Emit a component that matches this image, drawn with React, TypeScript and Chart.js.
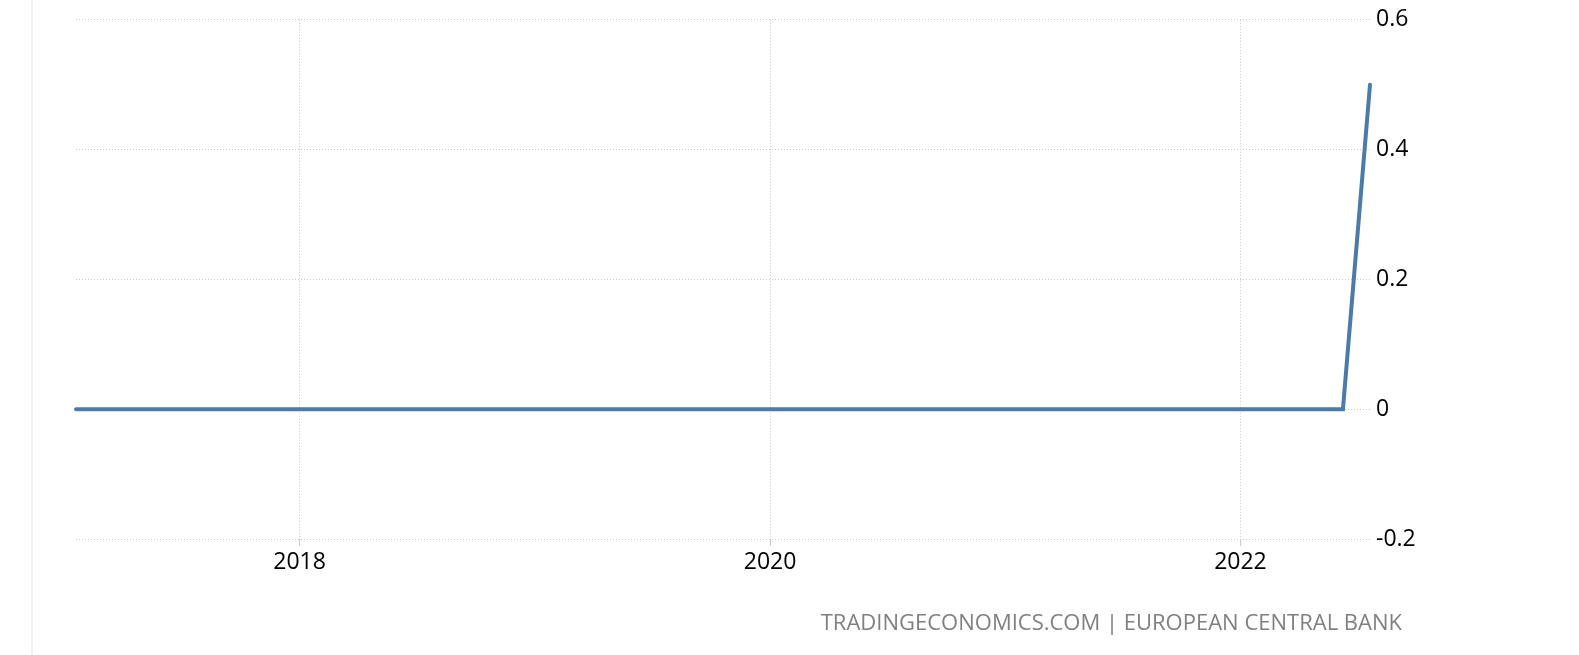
import { useEffect, useRef } from "react"
import { Chart, registerables } from "chart.js"

Chart.register(...registerables)

// ECB policy meeting dates and the rate (percent) set at each
const meetingDates = [
  "2017-01-19", "2017-03-09", "2017-04-27", "2017-06-08", "2017-07-20", "2017-09-07", "2017-10-26", "2017-12-14",
  "2018-01-25", "2018-03-08", "2018-04-26", "2018-06-14", "2018-07-26", "2018-09-13", "2018-10-25", "2018-12-13",
  "2019-01-24", "2019-03-07", "2019-04-10", "2019-06-06", "2019-07-25", "2019-09-12", "2019-10-24", "2019-12-12",
  "2020-01-23", "2020-03-12", "2020-04-30", "2020-06-04", "2020-07-16", "2020-09-10", "2020-10-29", "2020-12-10",
  "2021-01-21", "2021-03-11", "2021-04-22", "2021-06-10", "2021-07-22", "2021-09-09", "2021-10-28", "2021-12-16",
  "2022-02-03", "2022-03-10", "2022-04-14", "2022-06-09", "2022-07-21",
]
const rates = [
  0, 0, 0, 0, 0, 0, 0, 0,
  0, 0, 0, 0, 0, 0, 0, 0,
  0, 0, 0, 0, 0, 0, 0, 0,
  0, 0, 0, 0, 0, 0, 0, 0,
  0, 0, 0, 0, 0, 0, 0, 0,
  0, 0, 0, 0, 0.5,
]
const yearTicks = [2018, 2020, 2022]
const valueTicks = [-0.2, 0, 0.2, 0.4, 0.6]

const toYear = (s: string) => {
  const d = new Date(s + "T00:00:00Z")
  const y = d.getUTCFullYear()
  const start = Date.UTC(y, 0, 1)
  const end = Date.UTC(y + 1, 0, 1)
  return y + (d.getTime() - start) / (end - start)
}

const tickFont = { family: "'Open Sans', sans-serif", size: 23 }
const gridColor = "#cacaca"

export default function App() {
  const chartRef = useRef<HTMLCanvasElement>(null)
  const chartInstance = useRef<Chart | null>(null)

  useEffect(() => {
    if (!chartRef.current) return
    if (chartInstance.current) chartInstance.current.destroy()

    const points = meetingDates.map((d, i) => ({ x: toYear(d), y: rates[i] }))

    chartInstance.current = new Chart(chartRef.current, {
      type: "line",
      data: {
        datasets: [
          {
            data: points,
            borderColor: "#4b7ca9",
            borderWidth: 4,
            pointRadius: 0,
            tension: 0,
            borderCapStyle: "round",
            clip: false,
          },
        ],
      },
      options: {
        animation: false,
        responsive: false,
        maintainAspectRatio: false,
        layout: { padding: { left: 76, right: 0, top: 18, bottom: 75 } },
        plugins: { legend: { display: false }, tooltip: { enabled: false } },
        scales: {
          x: {
            type: "linear",
            min: points[0].x,
            max: points[points.length - 1].x,
            afterBuildTicks: (axis: any) => {
              axis.ticks = yearTicks.map((v) => ({ value: v }))
            },
            afterFit: (axis: any) => {
              axis.height = 41
            },
            ticks: {
              font: tickFont,
              color: "#000",
              padding: 3,
              maxRotation: 0,
              callback: (v: any) => String(v),
            },
            grid: {
              color: gridColor,
              tickLength: 7,
              tickColor: gridColor,
            },
            border: { display: false, dash: [1, 2] },
          },
          y: {
            position: "right",
            min: -0.2,
            max: 0.6,
            afterBuildTicks: (axis: any) => {
              axis.ticks = valueTicks.map((v) => ({ value: v }))
            },
            afterFit: (axis: any) => {
              axis.width = 209
            },
            ticks: {
              font: tickFont,
              color: "#000",
              padding: 6,
              crossAlign: "near",
              callback: (v: any) => String(Math.round(v * 10) / 10),
            },
            grid: { color: gridColor, drawTicks: false },
            border: { display: false, dash: [1, 2] },
          },
        },
      },
    })

    return () => {
      if (chartInstance.current) {
        chartInstance.current.destroy()
        chartInstance.current = null
      }
    }
  }, [])

  return (
    <div style={{ position: "fixed", left: 0, top: 0, width: 1579, height: 655, background: "#fff" }}>
      <div style={{ position: "absolute", left: 31, top: 0, width: 2, height: 655, background: "#f1f1f1" }} />
      <canvas ref={chartRef} width={1579} height={655} style={{ position: "absolute", left: 0, top: 0 }} />
      <div
        style={{
          position: "absolute",
          right: 177,
          top: 610,
          font: "22px 'Open Sans', sans-serif",
          lineHeight: "22px",
          color: "#808080",
          whiteSpace: "nowrap",
        }}
      >
        TRADINGECONOMICS.COM | EUROPEAN CENTRAL BANK
      </div>
    </div>
  )
}
